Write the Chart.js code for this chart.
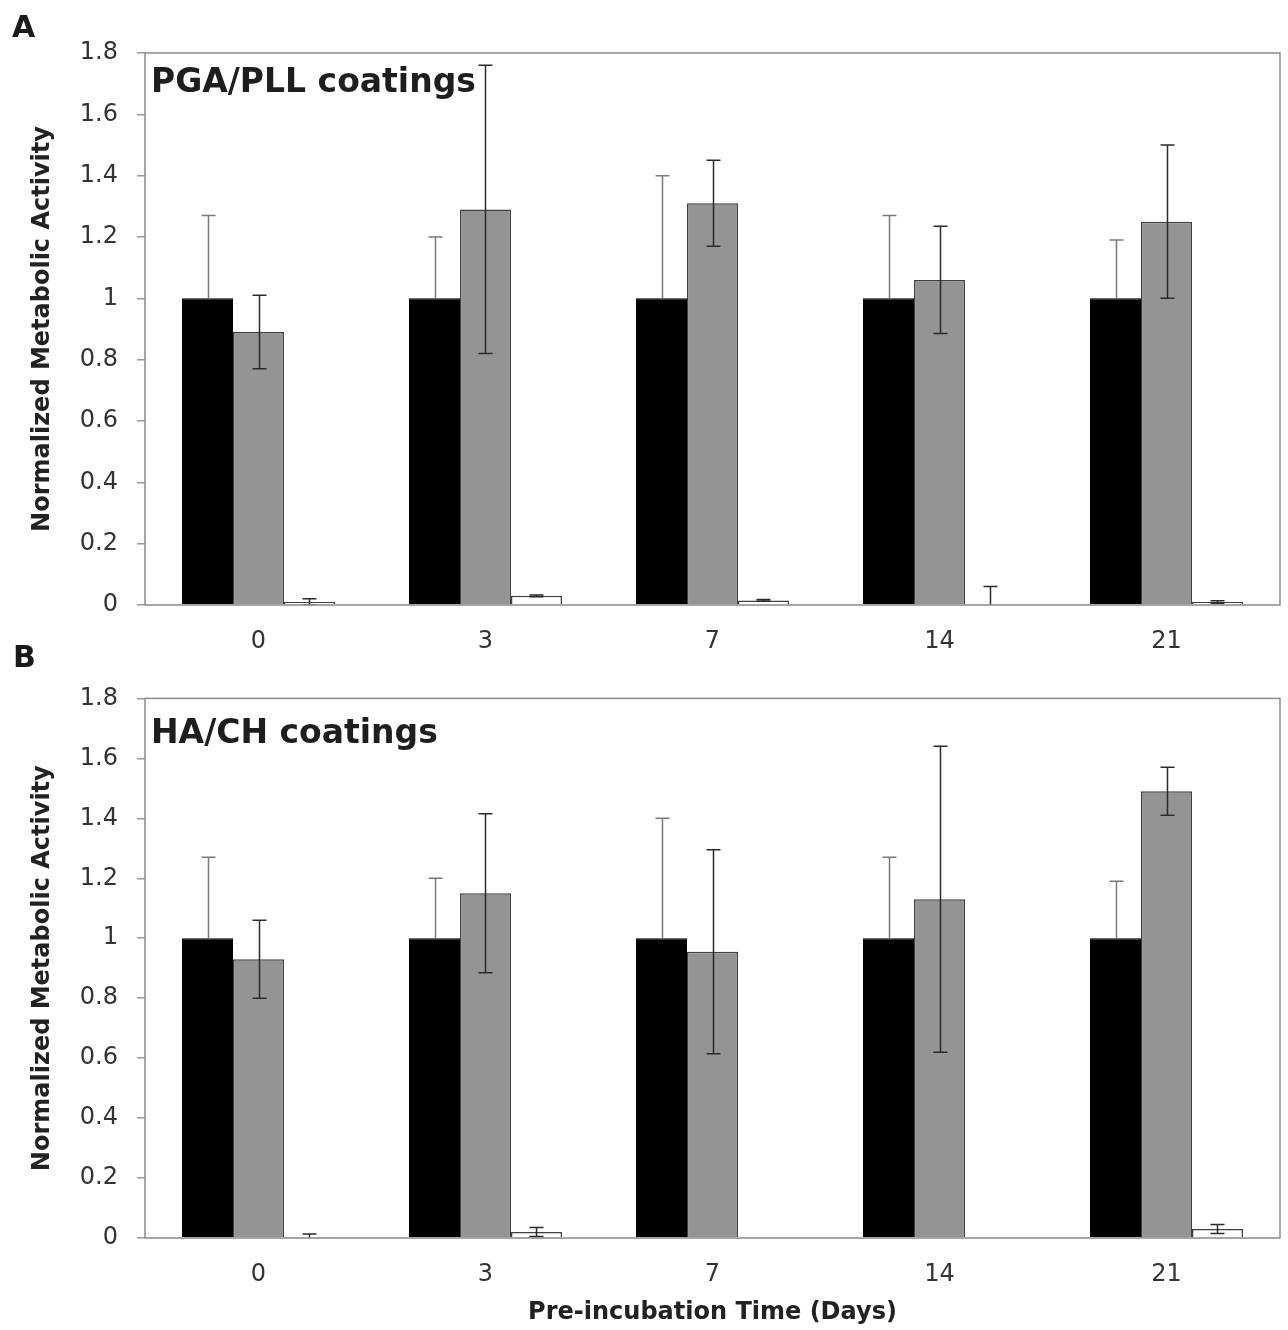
<!DOCTYPE html>
<html><head><meta charset="utf-8">
<script src="https://cdn.jsdelivr.net/npm/chart.js@4/dist/chart.umd.min.js"></script>
<style>
html,body{margin:0;padding:0;background:#fff;}
#wrap{position:relative;width:1288px;height:1330px;overflow:hidden;}
canvas{position:absolute;left:0;}
.lbl{position:absolute;font:bold 30px "DejaVu Sans";line-height:1;color:#1a1a1a;}
</style></head><body>
<div id="wrap">
<canvas id="cA" width="1288" height="665" style="top:0"></canvas>
<canvas id="cB" width="1288" height="665" style="top:665px"></canvas>
<div class="lbl" style="left:12px;top:12px">A</div>
<div class="lbl" style="left:13px;top:642px">B</div>
</div>
<script>
// ---- data ----
const categories = ['0', '3', '7', '14', '21'];
const yTickValues = [0, 0.2, 0.4, 0.6, 0.8, 1, 1.2, 1.4, 1.6, 1.8];
const yTickLabels = ['0', '0.2', '0.4', '0.6', '0.8', '1', '1.2', '1.4', '1.6', '1.8'];

// Panel A: PGA/PLL coatings
const A_control    = [1, 1, 1, 1, 1];
const A_controlErr = [0.27, 0.20, 0.40, 0.27, 0.19];
const A_coating    = [0.89, 1.29, 1.31, 1.06, 1.25];
const A_coatingErr = [0.12, 0.47, 0.14, 0.175, 0.25];
const A_third      = [0.01, 0.03, 0.015, 0, 0.01];
const A_thirdErr   = [0.01, 0.003, 0.003, 0.06, 0.004];

// Panel B: HA/CH coatings
const B_control    = [1, 1, 1, 1, 1];
const B_controlErr = [0.27, 0.20, 0.40, 0.27, 0.19];
const B_coating    = [0.93, 1.15, 0.955, 1.13, 1.49];
const B_coatingErr = [0.13, 0.265, 0.34, 0.51, 0.08];
const B_third      = [0.003, 0.02, 0, 0, 0.03];
const B_thirdErr   = [0.01, 0.015, 0, 0, 0.015];

Chart.defaults.font.family = '"DejaVu Sans", sans-serif';
Chart.defaults.color = '#333';

const errorBars = {
  id: 'errorBars',
  afterDatasetsDraw(chart) {
    const ctx = chart.ctx, ca = chart.chartArea, y = chart.scales.y;
    ctx.save();
    ctx.beginPath();
    ctx.rect(ca.left, ca.top - 1, ca.right - ca.left, ca.bottom - ca.top + 1);
    ctx.clip();
    chart.data.datasets.forEach((ds, i) => {
      const meta = chart.getDatasetMeta(i);
      ctx.strokeStyle = ds.errColor;
      ctx.lineWidth = 1.5;
      meta.data.forEach((bar, j) => {
        const e = ds.err[j];
        if (!e) return;
        const v = ds.data[j];
        const yt = y.getPixelForValue(v + e), yb = y.getPixelForValue(v - e);
        const x = Math.round(bar.x) + 0.5;
        ctx.beginPath();
        ctx.moveTo(x - 7, yt); ctx.lineTo(x + 7, yt);
        if (ds.errUpOnly) {
          ctx.moveTo(x, yt); ctx.lineTo(x, bar.y);
        } else {
          ctx.moveTo(x, yt); ctx.lineTo(x, yb);
          ctx.moveTo(x - 7, yb); ctx.lineTo(x + 7, yb);
        }
        ctx.stroke();
      });
    });
    ctx.restore();
  }
};

const frame = {
  id: 'frame',
  afterDraw(chart, args, opts) {
    const ctx = chart.ctx, ca = chart.chartArea;
    ctx.save();
    ctx.strokeStyle = '#8a8a8a';
    ctx.lineWidth = 1.5;
    ctx.strokeRect(ca.left, ca.top, ca.right - ca.left, ca.bottom - ca.top);
    ctx.fillStyle = '#1e1e1e';
    ctx.font = 'bold 33px "DejaVu Sans"';
    ctx.textBaseline = 'alphabetic';
    ctx.fillText(opts.text, ca.left + 6, ca.top + opts.dy);
    ctx.restore();
  }
};

function makeChart(id, control, controlErr, coating, coatingErr, third, thirdErr, title, dy, padTop, xHeight, showXTitle) {
  return new Chart(document.getElementById(id), {
    type: 'bar',
    data: {
      labels: categories,
      datasets: [
        { data: control, err: controlErr, errUpOnly: true, errColor: '#7a7a7a', backgroundColor: '#000', borderColor: '#000', borderWidth: 1 },
        { data: coating, err: coatingErr, errColor: '#2a2a2a', backgroundColor: '#949494', borderColor: '#404040', borderWidth: 1.5 },
        { data: third, err: thirdErr, errColor: '#2a2a2a', backgroundColor: '#fff', borderColor: '#404040', borderWidth: 1.5 }
      ]
    },
    options: {
      responsive: false,
      animation: false,
      events: [],
      layout: { padding: { top: padTop, right: 8, left: 0, bottom: 0 } },
      datasets: { bar: { categoryPercentage: 0.674, barPercentage: 1 } },
      plugins: { legend: { display: false }, tooltip: { enabled: false }, frame: { text: title, dy: dy } },
      scales: {
        x: {
          grid: { display: false },
          border: { display: false },
          ticks: { font: { size: 24 }, color: '#333', padding: 14, maxRotation: 0 },
          title: { display: showXTitle, text: 'Pre-incubation Time (Days)', font: { size: 24, weight: 'bold' }, color: '#222', padding: { top: 0, bottom: 3 } },
          afterFit: s => { s.height = xHeight; }
        },
        y: {
          min: 0, max: 1.8,
          grid: { display: true, drawOnChartArea: false, drawTicks: true, tickLength: 8, color: '#999', lineWidth: 1.5 },
          border: { display: false },
          afterBuildTicks: s => { s.ticks = yTickValues.map(v => ({ value: v })); },
          ticks: { font: { size: 24 }, color: '#333', padding: 19, callback: (v, i) => yTickLabels[i] },
          title: { display: true, text: 'Normalized Metabolic Activity', font: { size: 24, weight: 'bold' }, color: '#222', padding: { top: 28, bottom: 0 } },
          afterFit: s => { s.width = 145; }
        }
      }
    },
    plugins: [errorBars, frame]
  });
}

makeChart('cA', A_control, A_controlErr, A_coating, A_coatingErr, A_third, A_thirdErr, 'PGA/PLL coatings', 39, 53, 60, false);
makeChart('cB', B_control, B_controlErr, B_coating, B_coatingErr, B_third, B_thirdErr, 'HA/CH coatings', 45, 20, 92, true);
</script>
</body></html>
